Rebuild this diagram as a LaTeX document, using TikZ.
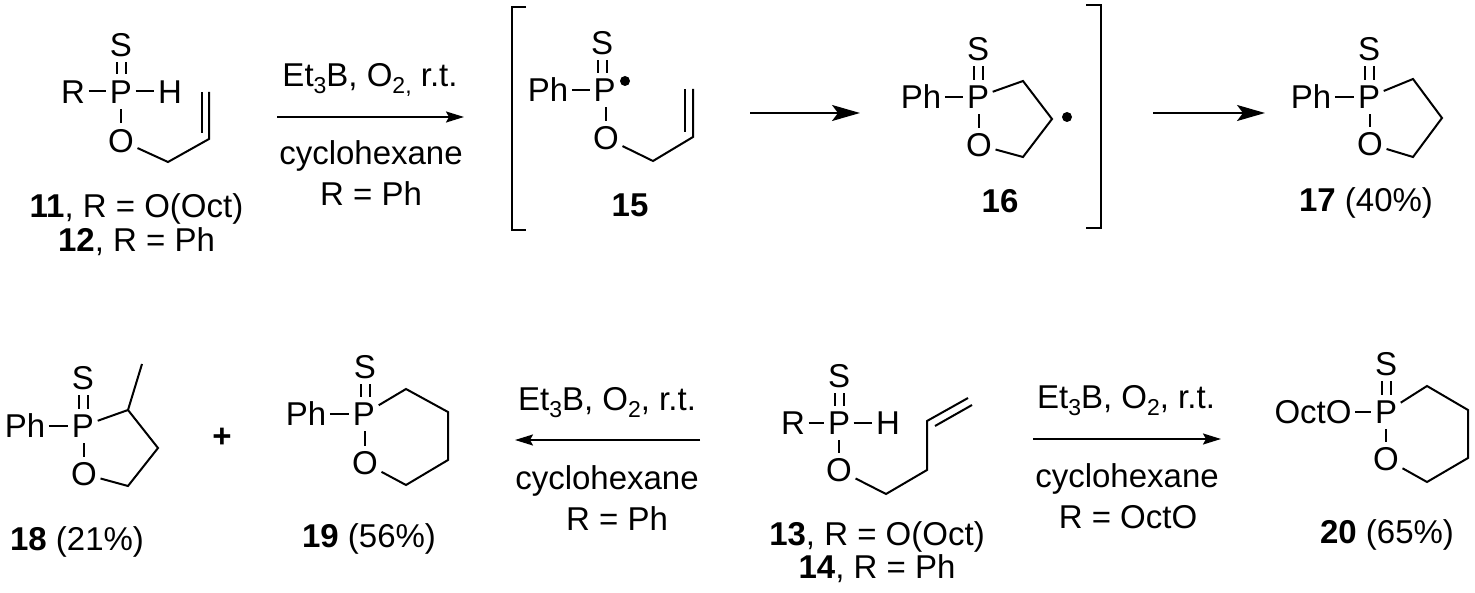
\documentclass[tikz,border=0pt]{standalone}
\usepackage{fontspec}
\setmainfont{Liberation Sans}
\usetikzlibrary{arrows.meta}
\newcommand\subs[1]{\raisebox{-7pt}{\fontsize{23}{23}\selectfont #1}}
\newcommand\etb[1]{Et\subs{3}B, O#1}
\newcommand\dbl[2]{\draw[bond] ([xshift=-4.5pt]#1.south) -- ([xshift=-4.5pt]#1.south |- #2.north);
  \draw[bond] ([xshift=4.5pt]#1.south) -- ([xshift=4.5pt]#1.south |- #2.north);}
\newcommand\vbond[2]{\draw[bond] (#1.north) -- (#1.north |- #2.south);}
\tikzset{
  atom/.style={inner xsep=3.5pt,inner ysep=5.5pt,text height=23.5pt,text depth=0pt,anchor=center,font=\fontsize{33}{39}\selectfont},
  lab/.style={inner sep=0pt,anchor=base,font=\fontsize{33}{39}\selectfont},
  bond/.style={line width=2pt,black},
  rxn/.style={line width=1.9pt,-{Stealth[length=18pt,width=11pt,inset=3pt]}},
  rxnbig/.style={line width=1.9pt,-{Stealth[length=28pt,width=16pt,inset=6pt]}},
  brack/.style={line width=2pt},
  radical/.style={circle,fill=black,inner sep=0pt,minimum size=10pt}
}
\begin{document}
\begin{tikzpicture}[x=1pt,y=-1pt]
\useasboundingbox (0,0) rectangle (1475,593);
% 11/12
\node[atom] (s11) at (121,45) {S};
\node[atom] (p11) at (121,91.5) {P};
\node[atom] (r11) at (73,91.5) {R};
\node[atom] (h11) at (170,91.5) {H};
\node[atom] (o11) at (121,140.5) {O};
\coordinate (a11) at (168,162); \coordinate (b11) at (209,139); \coordinate (c11) at (209,92);
\coordinate (d11) at (202,133); \coordinate (e11) at (202,92);
\dbl{s11}{p11}
\draw[bond] (r11) -- (p11); \draw[bond] (p11) -- (h11); \vbond{o11}{p11}
\draw[bond] (o11) -- (a11) -- (b11) -- (c11); \draw[bond] (d11) -- (e11);
\node[lab] (l11) at (136.5,218) {\textbf{11}, R = O(Oct)};
\node[lab] (l12) at (136.5,252) {\textbf{12}, R = Ph};
% arrow 1
\coordinate (w1) at (277,117); \coordinate (e1) at (464,117);
\draw[rxn] (w1) -- (e1);
\node[lab] (t1a) at (370,87) {\etb{\subs{2,}} r.t.};
\node[lab] (t1b) at (371,165) {cyclohexane};
\node[lab] (t1c) at (371,206) {R = Ph};
% brackets
\coordinate (lb1) at (526,7); \coordinate (lb2) at (512,7); \coordinate (lb3) at (512,230); \coordinate (lb4) at (526,230);
\draw[brack] (lb1) -- (lb2) -- (lb3) -- (lb4);
\coordinate (rb1) at (1086,5); \coordinate (rb2) at (1101,5); \coordinate (rb3) at (1101,228); \coordinate (rb4) at (1086,228);
\draw[brack] (rb1) -- (rb2) -- (rb3) -- (rb4);
% 15
\node[atom] (s15) at (602,43) {S};
\node[atom] (p15) at (604.5,90) {P};
\node[atom] (ph15) at (548,90) {Ph};
\node[atom] (o15) at (606,138) {O};
\node[radical] (dot15) at (625,81) {};
\coordinate (a15) at (653,161); \coordinate (b15) at (693,137); \coordinate (c15) at (693,89);
\coordinate (d15) at (685,132); \coordinate (e15) at (685,89);
\dbl{s15}{p15}
\draw[bond] (ph15) -- (p15); \vbond{o15}{p15}
\draw[bond] (o15) -- (a15) -- (b15) -- (c15); \draw[bond] (d15) -- (e15);
\node[lab] (l15) at (630,217) {\textbf{15}};
% arrow 2
\coordinate (w2) at (750,113); \coordinate (e2) at (860,113);
\draw[rxnbig] (w2) -- (e2);
% 16
\node[atom] (s16) at (978,49) {S};
\node[atom] (p16) at (978,97) {P};
\node[atom] (ph16) at (921,97) {Ph};
\node[atom] (o16) at (979,145) {O};
\coordinate (a16) at (1023,81); \coordinate (b16) at (1052,119); \coordinate (c16) at (1023,157);
\node[radical] (dot16) at (1067,117) {};
\dbl{s16}{p16}
\draw[bond] (ph16) -- (p16); \vbond{o16}{p16}
\draw[bond] (p16) -- (a16) -- (b16) -- (c16) -- (o16);
\node[lab] (l16) at (1000,213) {\textbf{16}};
% arrow 3
\coordinate (w3) at (1153,113); \coordinate (e3) at (1265,113);
\draw[rxnbig] (w3) -- (e3);
% 17
\node[atom] (s17) at (1369,49) {S};
\node[atom] (p17) at (1369,97) {P};
\node[atom] (ph17) at (1311,97) {Ph};
\node[atom] (o17) at (1370,144) {O};
\coordinate (a17) at (1413,79); \coordinate (b17) at (1442,118); \coordinate (c17) at (1413,157);
\dbl{s17}{p17}
\draw[bond] (ph17) -- (p17); \vbond{o17}{p17}
\draw[bond] (p17) -- (a17) -- (b17) -- (c17) -- (o17);
\node[lab] (l17) at (1366,212) {\textbf{17} (40\%)};
% 18
\node[atom] (s18) at (83,378) {S};
\node[atom] (p18) at (83,426) {P};
\node[atom] (ph18) at (25,426) {Ph};
\node[atom] (o18) at (84,474) {O};
\coordinate (a18) at (128,410); \coordinate (b18) at (158,448); \coordinate (c18) at (128,486); \coordinate (m18) at (142,364);
\dbl{s18}{p18}
\draw[bond] (ph18) -- (p18); \vbond{o18}{p18}
\draw[bond] (p18) -- (a18) -- (b18) -- (c18) -- (o18); \draw[bond] (a18) -- (m18);
\node[lab] (l18) at (77,550) {\textbf{18} (21\%)};
\node[lab,anchor=center] (plus) at (222,438) {\textbf{+}};
% 19
\node[atom] (s19) at (365,367) {S};
\node[atom] (p19) at (364,414) {P};
\node[atom] (ph19) at (306,414) {Ph};
\node[atom] (o19) at (365,463) {O};
\coordinate (a19) at (406,389); \coordinate (b19) at (448,412); \coordinate (c19) at (448,460); \coordinate (d19) at (406,485);
\dbl{s19}{p19}
\draw[bond] (ph19) -- (p19); \vbond{o19}{p19}
\draw[bond] (p19) -- (a19) -- (b19) -- (c19) -- (d19) -- (o19);
\node[lab] (l19) at (369,547) {\textbf{19} (56\%)};
% arrow 4
\coordinate (w4) at (515,440); \coordinate (e4) at (700,440);
\draw[rxn] (e4) -- (w4);
\node[lab] (t4a) at (607,410) {\etb{\subs{2}}, r.t.};
\node[lab] (t4b) at (607,489) {cyclohexane};
\node[lab] (t4c) at (617,530) {R = Ph};
% 13/14
\node[atom] (s13) at (839,376) {S};
\node[atom] (p13) at (839,423) {P};
\node[atom] (r13) at (793,423) {R};
\node[atom] (h13) at (888,423) {H};
\node[atom] (o13) at (839,470) {O};
\coordinate (a13) at (886,494); \coordinate (b13) at (927,470); \coordinate (c13) at (927,421); \coordinate (d13) at (968,398);
\coordinate (f13) at (935,426); \coordinate (g13) at (972,405);
\dbl{s13}{p13}
\draw[bond] (r13) -- (p13); \draw[bond] (p13) -- (h13); \vbond{o13}{p13}
\draw[bond] (o13) -- (a13) -- (b13) -- (c13) -- (d13); \draw[bond] (f13) -- (g13);
\node[lab] (l13) at (877,545) {\textbf{13}, R = O(Oct)};
\node[lab] (l14) at (877,578) {\textbf{14}, R = Ph};
% arrow 5
\coordinate (w5) at (1033,439); \coordinate (e5) at (1221,439);
\draw[rxn] (w5) -- (e5);
\node[lab] (t5a) at (1126,408) {\etb{\subs{2}}, r.t.};
\node[lab] (t5b) at (1127,487) {cyclohexane};
\node[lab] (t5c) at (1128,528) {R = OctO};
% 20
\node[atom] (s20) at (1386,364) {S};
\node[atom] (p20) at (1386,412) {P};
\node[atom] (oct20) at (1313,412) {OctO};
\node[atom] (o20) at (1386,459) {O};
\coordinate (a20) at (1427,386); \coordinate (b20) at (1468,410); \coordinate (c20) at (1468,458); \coordinate (d20) at (1427,482);
\dbl{s20}{p20}
\draw[bond] (oct20) -- (p20); \vbond{o20}{p20}
\draw[bond] (p20) -- (a20) -- (b20) -- (c20) -- (d20) -- (o20);
\node[lab] (l20) at (1387,543) {\textbf{20} (65\%)};
\end{tikzpicture}
\end{document}
